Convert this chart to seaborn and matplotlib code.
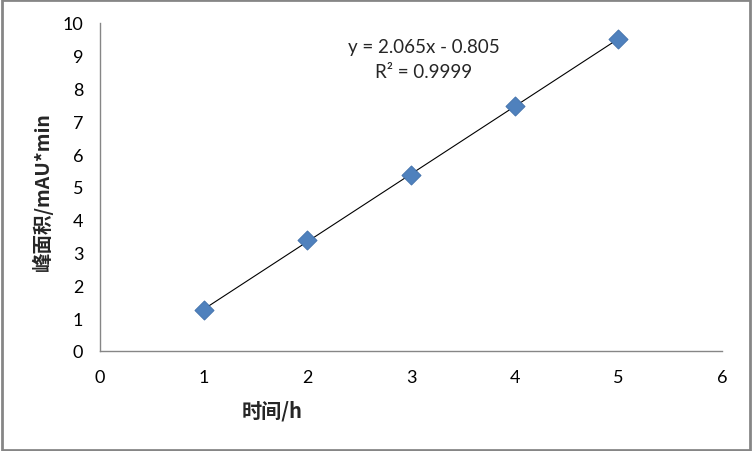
import matplotlib
matplotlib.use("Agg")
import matplotlib.pyplot as plt
import seaborn as sns
import numpy as np
import pandas as pd

# Données
temps = [1, 2, 3, 4, 5]
surface = [1.25, 3.37, 5.38, 7.46, 9.51]
x_ticks = [0, 1, 2, 3, 4, 5, 6]
y_ticks = [0, 1, 2, 3, 4, 5, 6, 7, 8, 9, 10]
equation = "y = 2.065x - 0.805"
r2_label = "R² = 0.9999"

df = pd.DataFrame({"t": temps, "s": surface})

sns.set_style("white")
plt.rcParams['font.family'] = ['Lato', 'Noto Sans CJK SC', 'DejaVu Sans']

fig = plt.figure(figsize=(7.52, 4.52), dpi=100)
ax = fig.add_axes([100 / 752, 1 - 352 / 452, 622 / 752, 328 / 452])

# Droite de tendance (moindres carrés)
a, b = np.polyfit(df["t"], df["s"], 1)
xr = np.array([min(temps), max(temps)])
ax.plot(xr, a * xr + b, color="black", linewidth=0.8, zorder=2)

sns.scatterplot(x="t", y="s", data=df, marker="D", s=95, color="#4F81BD",
                edgecolor="#3F6FAA", linewidth=0.6, ax=ax, zorder=3)

ax.set_xlim(0, 6)
ax.set_ylim(0, 10)
ax.set_xticks(x_ticks)
ax.set_yticks(y_ticks)
ax.set_xlabel("")
ax.set_ylabel("")
for side in ["top", "right"]:
    ax.spines[side].set_visible(False)
for side in ["left", "bottom"]:
    ax.spines[side].set_color("#868686")
    ax.spines[side].set_linewidth(1)
ax.tick_params(axis="both", direction="out", length=5, width=1, color="#868686",
               labelsize=13, labelcolor="black", pad=7)
ax.tick_params(axis="x", pad=8)

ax.text(424 / 752, 1 - 47 / 452, equation, transform=fig.transFigure,
        ha="center", va="center", fontsize=13.5)
ax.text(424 / 752, 1 - 72 / 452, r2_label, transform=fig.transFigure,
        ha="center", va="center", fontsize=13.5)

fig.text(272 / 752, 1 - 411 / 452, "时间/h", ha="center", va="center",
         fontsize=14.5, fontweight="bold", family=['Noto Sans CJK SC', 'DejaVu Sans'])
fig.text(42 / 752, 1 - 192 / 452, "峰面积/mAU*min", ha="center", va="center",
         rotation=90, fontsize=14, fontweight="bold",
         family=['Noto Sans CJK SC', 'DejaVu Sans'])

# Cadre gris autour de la figure
fig.patches.append(plt.Rectangle((0.002, 0.003), 0.995, 0.994, transform=fig.transFigure,
                                 fill=False, edgecolor="#868686", linewidth=2))

fig.savefig("out.png", dpi=100)
